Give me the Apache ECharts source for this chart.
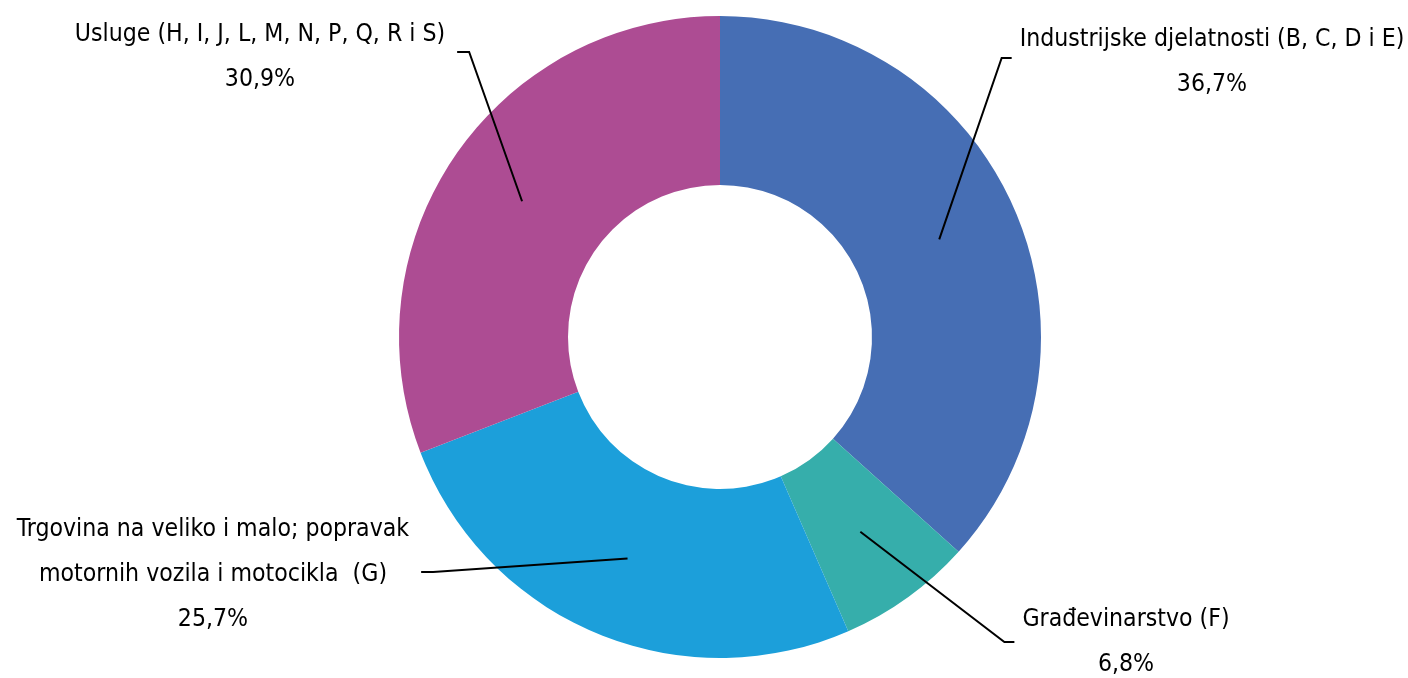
<!DOCTYPE html>
<html>
<head>
    <meta charset="utf-8">
    <title>Struktura po djelatnostima</title>
    <script src="https://cdn.jsdelivr.net/npm/echarts@6/dist/echarts.min.js"></script>
    <style>
        html, body { margin: 0; padding: 0; background: #fff; }
        #main { width: 1408px; height: 678px; }
    </style>
</head>
<body>
<div id="main"></div>
<script type="text/javascript">
    // podaci
    var categories = [
        'Industrijske djelatnosti (B, C, D i E)',
        'Građevinarstvo (F)',
        'Trgovina na veliko i malo; popravak\nmotornih vozila i motocikla  (G)',
        'Usluge (H, I, J, L, M, N, P, Q, R i S)'
    ];
    var shares = [36.7, 6.8, 25.7, 30.9];
    var colors = ['#466EB4', '#36AEAB', '#1C9FDA', '#AD4C93'];

    // položaj oznaka (središte bloka teksta), strana linije i visina linije
    var labelPos = [
        {x: 1212, y: 62, side: 'left', ly: 58},
        {x: 1126, y: 642, side: 'left', ly: 642},
        {x: 213, y: 575, side: 'right', ly: 572},
        {x: 260, y: 57, side: 'right', ly: 52}
    ];

    var center = [720, 337];
    var innerR = 152, outerR = 321, lineR = 240;
    var fontFamily = '"DejaVu Sans Condensed", sans-serif';
    var fontSize = 24.6;

    function fmt(v) {
        return v.toFixed(1).replace('.', ',') + '%';
    }

    // širina najšireg retka oznake
    var ctx = document.createElement('canvas').getContext('2d');
    ctx.font = fontSize + 'px ' + fontFamily;
    function textWidth(s) {
        return Math.max.apply(null, s.split('\n').map(function (t) {
            return ctx.measureText(t).width;
        }));
    }

    var myChart = echarts.init(document.getElementById('main'));

    var data = categories.map(function (name, i) {
        return {name: name, value: shares[i], itemStyle: {color: colors[i]}};
    });
    var labelData = categories.map(function (name, i) {
        return {name: name, value: shares[i]};
    });

    var option = {
        animation: false,
        series: [{
            // isječci
            type: 'pie',
            z: 2,
            center: center,
            radius: [innerR, outerR],
            startAngle: 90,
            clockwise: true,
            silent: true,
            data: data,
            itemStyle: {borderWidth: 0},
            label: {show: false},
            labelLine: {show: false}
        }, {
            // oznake i linije iznad isječaka
            type: 'pie',
            z: 5,
            center: center,
            radius: [innerR, outerR],
            startAngle: 90,
            clockwise: true,
            silent: true,
            data: labelData,
            itemStyle: {color: 'rgba(0,0,0,0)', borderWidth: 0},
            label: {
                show: true,
                position: 'outside',
                fontFamily: fontFamily,
                fontSize: fontSize,
                lineHeight: 45,
                color: '#000',
                align: 'center',
                width: 600,
                overflow: 'none',
                formatter: function (p) {
                    return p.name + '\n' + fmt(p.value);
                }
            },
            labelLine: {
                show: true,
                length: 10,
                length2: 10,
                lineStyle: {color: '#000', width: 2}
            },
            labelLayout: function (p) {
                var i = p.dataIndex;
                var pos = labelPos[i];
                var w = textWidth(categories[i] + '\n' + fmt(shares[i]));
                // početak linije na sredini prstena, u smjeru sredine isječka
                var p0 = p.labelLinePoints[0];
                var dx = p0[0] - center[0], dy = p0[1] - center[1];
                var d = Math.sqrt(dx * dx + dy * dy);
                var start = [center[0] + dx / d * lineR, center[1] + dy / d * lineR];
                var endX, elbowX;
                if (pos.side === 'left') {
                    endX = pos.x - w / 2 - 8;
                    elbowX = endX - 10;
                } else {
                    endX = pos.x + w / 2 + 12;
                    elbowX = endX + 12;
                }
                return {
                    x: pos.x,
                    y: pos.y,
                    align: 'center',
                    verticalAlign: 'middle',
                    labelLinePoints: [start, [elbowX, pos.ly], [endX, pos.ly]]
                };
            }
        }]
    };

    myChart.setOption(option);
</script>
</body>
</html>
